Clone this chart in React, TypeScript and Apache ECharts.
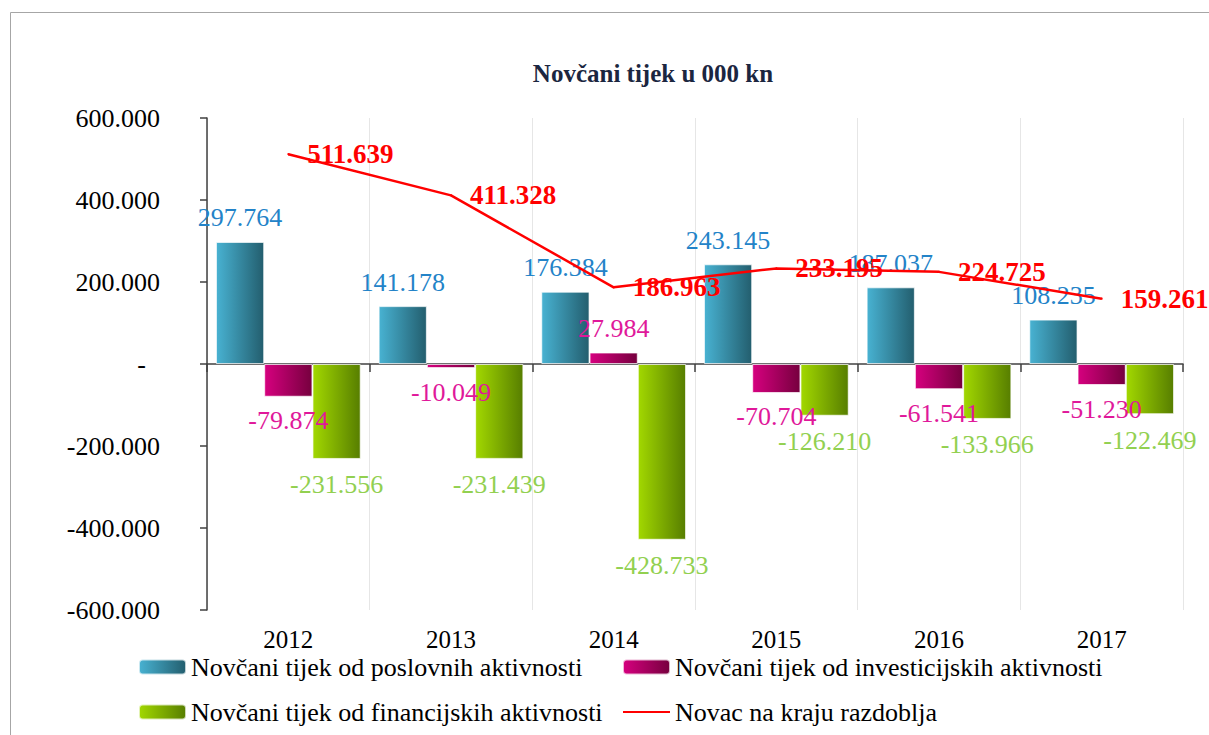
import React, { useEffect, useRef } from "react";
import * as echarts from "echarts";

const years = ["2012", "2013", "2014", "2015", "2016", "2017"];
const poslovne = [297764, 141178, 176384, 243145, 187037, 108235];
const investicijske = [-79874, -10049, 27984, -70704, -61541, -51230];
const financijske = [-231556, -231439, -428733, -126210, -133966, -122469];
const novac = [511639, 411328, 186963, 233195, 224725, 159261];

const seriesNames = [
  "Novčani tijek od poslovnih aktivnosti",
  "Novčani tijek od investicijskih aktivnosti",
  "Novčani tijek od financijskih aktivnosti",
  "Novac na kraju razdoblja",
];

const FONT = '"Liberation Serif", "Times New Roman", serif';

function fmt(v: number): string {
  if (v === 0) return "-";
  const neg = v < 0;
  const s = Math.round(Math.abs(v)).toString().replace(/\B(?=(\d{3})+(?!\d))/g, ".");
  return (neg ? "-" : "") + s;
}

function grad(a: string, b: string) {
  return new echarts.graphic.LinearGradient(0, 0, 1, 0, [
    { offset: 0, color: a },
    { offset: 1, color: b },
  ]);
}

function barData(vals: number[]) {
  return vals.map((v) => ({
    value: v,
    label: { position: v < 0 ? "bottom" : "top" },
  }));
}

export default function App() {
  const ref = useRef<HTMLDivElement>(null);
  useEffect(() => {
    if (!ref.current) return;
    const chart = echarts.init(ref.current, null, { renderer: "svg" });
    const labelBase = {
      show: true,
      fontFamily: FONT,
      fontSize: 26,
      distance: 11,
      formatter: (p: any) => fmt(p.value),
    };
    const legendText = { fontFamily: FONT, fontSize: 26, color: "#000" };
    const legendCommon = {
      orient: "horizontal",
      itemWidth: 47,
      itemHeight: 15,
      itemGap: 5,
      padding: 0,
      textStyle: legendText,
      selectedMode: false,
    };
    chart.setOption({
      animation: false,
      backgroundColor: "#fff",
      title: {
        text: "Novčani tijek u 000 kn",
        left: 648,
        textAlign: "center",
        top: 56,
        textStyle: {
          fontFamily: FONT,
          fontSize: 25,
          fontWeight: "bold",
          color: "#1B2640",
        },
      },
      graphic: [
        {
          type: "rect",
          shape: { x: 10.5, y: 12.5, width: 1300, height: 800 },
          style: { fill: "none", stroke: "#A6A6A6", lineWidth: 1 },
          silent: true,
        },
      ],
      legend: [
        { ...legendCommon, left: 138, top: 654, data: [seriesNames[0]] },
        { ...legendCommon, left: 622, top: 654, data: [seriesNames[1]] },
        { ...legendCommon, left: 138, top: 699, data: [seriesNames[2]] },
        {
          ...legendCommon,
          left: 622,
          top: 699,
          data: [{ name: seriesNames[3], itemStyle: { opacity: 0 } }],
        },
      ],
      grid: { left: 207, right: 26, top: 118, bottom: 125 },
      xAxis: [
        {
          type: "category",
          data: years,
          position: "bottom",
          axisLine: { show: false, onZero: false },
          axisTick: { show: false },
          axisLabel: {
            fontFamily: FONT,
            fontSize: 25,
            color: "#000",
            margin: 17,
          },
          splitLine: { show: true, lineStyle: { color: "#E6E6E6", width: 1 } },
        },
        {
          type: "category",
          data: years,
          position: "bottom",
          axisLine: { show: true, onZero: true, lineStyle: { color: "#404040", width: 1.5 } },
          axisTick: { show: true, length: 8, lineStyle: { color: "#404040", width: 1.5 } },
          axisLabel: { show: false },
          splitLine: { show: false },
        },
      ],
      yAxis: {
        type: "value",
        min: -600000,
        max: 600000,
        interval: 200000,
        axisLine: { show: true, lineStyle: { color: "#404040", width: 1.5 } },
        axisTick: { show: true, length: 7, lineStyle: { color: "#404040", width: 1.5 } },
        splitLine: { show: false },
        axisLabel: {
          fontFamily: FONT,
          fontSize: 26,
          color: "#000",
          margin: 47,
          formatter: (v: number) => (v === 0 ? "{z|-}" : fmt(v)),
          rich: {
            z: { fontFamily: FONT, fontSize: 26, color: "#000", padding: [0, 14, 0, 0] },
          },
        },
      },
      series: [
        {
          name: seriesNames[0],
          type: "bar",
          data: barData(poslovne),
          barGap: "0%",
          barCategoryGap: "11%",
          itemStyle: {
            color: grad("#48B2D2", "#235E6E"),
            borderColor: "rgba(255,255,255,0.7)",
            borderWidth: 1,
          },
          label: { ...labelBase, color: "#2383C8" },
        },
        {
          name: seriesNames[1],
          type: "bar",
          data: barData(investicijske),
          barGap: "0%",
          barCategoryGap: "11%",
          itemStyle: {
            color: grad("#D6007F", "#76003E"),
            borderColor: "rgba(255,255,255,0.7)",
            borderWidth: 1,
          },
          label: { ...labelBase, color: "#E0189A" },
        },
        {
          name: seriesNames[2],
          type: "bar",
          data: barData(financijske),
          barGap: "0%",
          barCategoryGap: "11%",
          itemStyle: {
            color: grad("#A2D800", "#577E00"),
            borderColor: "rgba(255,255,255,0.7)",
            borderWidth: 1,
          },
          label: { ...labelBase, color: "#92D050", distance: 13 },
        },
        {
          name: seriesNames[3],
          type: "line",
          data: novac,
          symbol: "circle",
          symbolSize: 2,
          itemStyle: { color: "#FF0000" },
          lineStyle: { color: "#FF0000", width: 2.5 },
          label: {
            show: true,
            position: "right",
            distance: 18,
            fontFamily: FONT,
            fontSize: 27,
            fontWeight: "bold",
            color: "#FF0000",
            formatter: (p: any) => fmt(p.value),
          },
          z: 5,
        },
      ],
    });
    return () => chart.dispose();
  }, []);
  return (
    <div
      ref={ref}
      style={{ position: "fixed", left: 0, top: 0, width: 1209, height: 735 }}
    />
  );
}
